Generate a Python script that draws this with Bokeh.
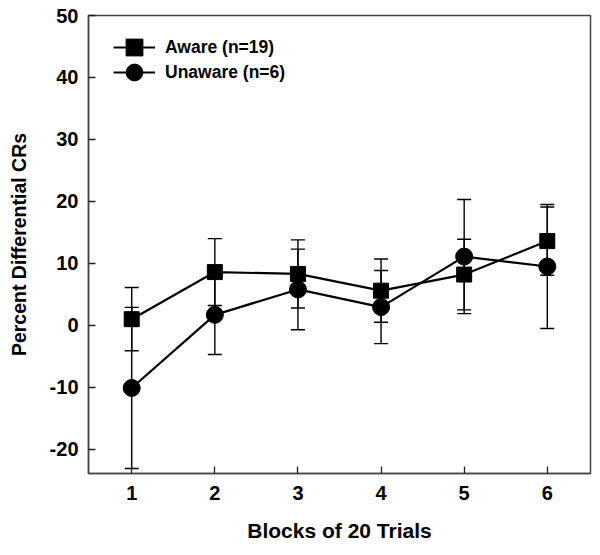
from bokeh.plotting import figure
from bokeh.models import ColumnDataSource, Whisker, TeeHead, Legend, LegendItem, FixedTicker, Range1d
from bokeh.embed import file_html
from bokeh.resources import INLINE

blocks = [1, 2, 3, 4, 5, 6]
aware = [1.0, 8.6, 8.3, 5.6, 8.2, 13.6]
aware_err = [5.1, 5.4, 5.5, 5.1, 5.7, 5.5]
unaware = [-10.1, 1.7, 5.8, 2.95, 11.1, 9.5]
unaware_err = [13.0, 6.4, 6.5, 5.9, 9.2, 10.0]
y_ticks = [-20, -10, 0, 10, 20, 30, 40, 50]

FONT = "Liberation Sans"

p = figure(width=592, height=547, output_backend="svg", toolbar_location=None,
           x_range=Range1d(0.48, 6.52), y_range=Range1d(-23.9, 50),
           min_border_left=88, min_border_right=2, min_border_top=15, min_border_bottom=74)
p.xgrid.visible = False
p.ygrid.visible = False
p.outline_line_color = "#444444"
p.outline_line_width = 1.5

for ax in (p.xaxis[0], p.yaxis[0]):
    ax.major_tick_out = 0
    ax.major_tick_in = 7
    ax.minor_tick_in = 0
    ax.minor_tick_out = 0
    ax.major_tick_line_color = "#222222"
    ax.major_tick_line_width = 1.3
    ax.axis_line_color = "#444444"
    ax.axis_line_width = 1.5
    ax.major_label_text_font = FONT
    ax.major_label_text_font_style = "bold"
    ax.major_label_text_font_size = "20px"
    ax.major_label_text_color = "black"
    ax.axis_label_text_font = FONT
    ax.axis_label_text_font_style = "bold"
    ax.axis_label_text_color = "black"

p.xaxis.ticker = FixedTicker(ticks=blocks)
p.yaxis.ticker = FixedTicker(ticks=y_ticks)
p.yaxis.major_label_overrides = {t: str(t) for t in y_ticks}
p.xaxis.major_label_standoff = 12
p.yaxis.major_label_standoff = 10
p.xaxis.axis_label = "Blocks of 20 Trials"
p.yaxis.axis_label = "Percent Differential CRs"
p.xaxis.axis_label_text_font_size = "21px"
p.yaxis.axis_label_text_font_size = "19.5px"
p.xaxis.axis_label_standoff = 16
p.yaxis.axis_label_standoff = 17

src_a = ColumnDataSource(dict(x=blocks, y=aware,
                              up=[v + e for v, e in zip(aware, aware_err)],
                              lo=[v - e for v, e in zip(aware, aware_err)]))
src_u = ColumnDataSource(dict(x=blocks, y=unaware,
                              up=[v + e for v, e in zip(unaware, unaware_err)],
                              lo=[v - e for v, e in zip(unaware, unaware_err)]))

for src in (src_u, src_a):
    w = Whisker(source=src, base="x", upper="up", lower="lo", dimension="height",
                line_color="black", line_width=1.4,
                upper_head=TeeHead(size=14, line_color="black", line_width=1.4),
                lower_head=TeeHead(size=14, line_color="black", line_width=1.4),
                level="underlay")
    p.add_layout(w)

la = p.line("x", "y", source=src_a, line_color="black", line_width=2.2)
sa = p.scatter("x", "y", source=src_a, marker="square", size=15, fill_color="black", line_color="black")
lu = p.line("x", "y", source=src_u, line_color="black", line_width=2.2)
su = p.scatter("x", "y", source=src_u, marker="circle", size=17, fill_color="black", line_color="black")

def make_legend(label, rends, loc):
    lg = Legend(items=[LegendItem(label=label, renderers=rends)], location=loc,
                glyph_width=42, glyph_height=42, label_standoff=10, padding=0, margin=0,
                spacing=0, border_line_color=None, background_fill_alpha=0,
                label_text_font=FONT, label_text_font_style="bold", label_text_font_size="17.5px",
                label_text_color="black", label_height=42)
    p.add_layout(lg, "center")

make_legend("Aware (n=19)", [la, sa], (25, 405))
make_legend("Unaware (n=6)", [lu, su], (25, 380))

open("out.html", "w").write(file_html(p, INLINE))
